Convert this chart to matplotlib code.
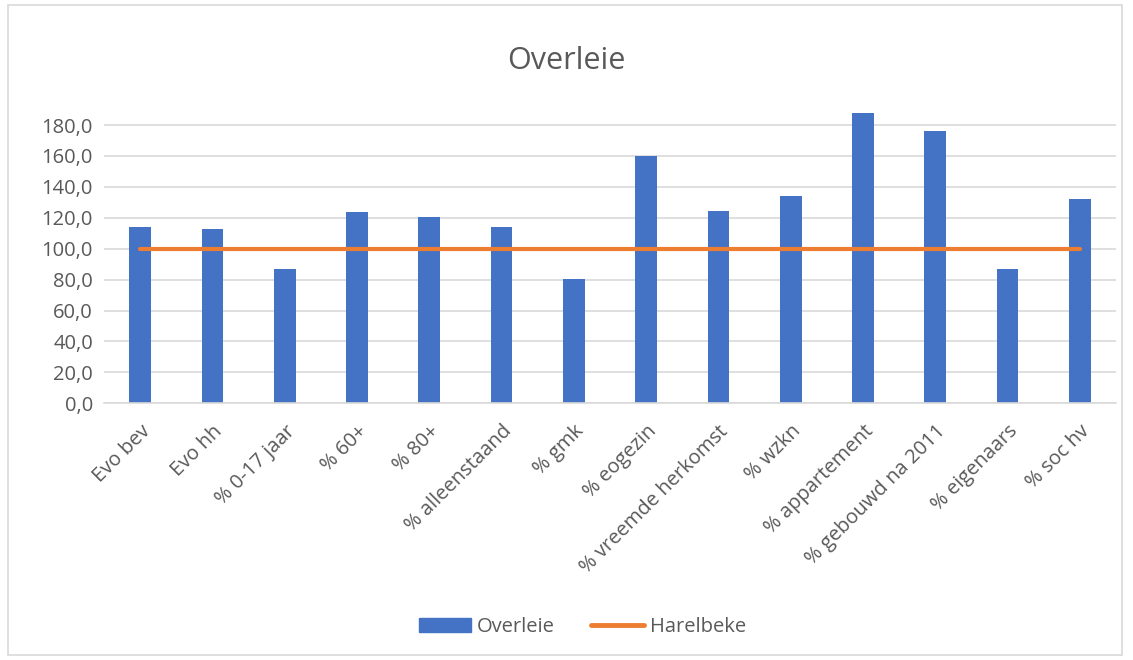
import matplotlib.pyplot as plt
import numpy as np
from matplotlib.patches import Rectangle
from matplotlib.lines import Line2D
from matplotlib.patches import Patch

# Data
categories = [
    "Evo bev", "Evo hh", "% 0-17 jaar", "% 60+", "% 80+", "% alleenstaand",
    "% gmk", "% eogezin", "% vreemde herkomst", "% wzkn", "% appartement",
    "% gebouwd na 2011", "% eigenaars", "% soc hv",
]
overleie = [114.0, 112.5, 86.7, 123.8, 120.5, 114.0, 80.4, 160.0, 124.4,
            134.1, 188.0, 176.3, 86.7, 132.3]
harelbeke = [100.0] * len(categories)
yticks = [0, 20, 40, 60, 80, 100, 120, 140, 160, 180]

plt.rcParams['font.family'] = ['Open Sans', 'DejaVu Sans']
text_col = '#595959'
grid_col = '#d9d9d9'

fig = plt.figure(figsize=(11.33, 6.6), dpi=100)
ax = fig.add_axes([0.0918, 0.389, 0.8932, 0.445])

x = np.arange(len(categories))
ax.bar(x, overleie, 0.3, color='#4472c4', zorder=2)
ax.plot(x, harelbeke, color='#ed7d31', lw=3, solid_capstyle='round', zorder=3)

ax.set_xlim(-0.5, len(categories) - 0.5)
ax.set_ylim(0, 190)
ax.set_yticks(yticks)
ax.set_yticklabels([f'{v:.1f}'.replace('.', ',') for v in yticks])
ax.yaxis.grid(True, color=grid_col, lw=1.2, zorder=0)
ax.set_xticks(x)
ax.set_xticklabels(categories, rotation=45, ha='right', rotation_mode='anchor')
ax.tick_params(axis='both', length=0, labelsize=14.5, colors=text_col, pad=8)
ax.tick_params(axis='x', pad=13)
for s in ['top', 'right', 'left']:
    ax.spines[s].set_visible(False)
ax.spines['bottom'].set_color(grid_col)
ax.spines['bottom'].set_linewidth(1.2)

fig.text(0.5, 0.908, 'Overleie', ha='center', va='center', fontsize=22, color=text_col)

handles = [Patch(color='#4472c4'), Line2D([0], [0], color='#ed7d31', lw=3.5, solid_capstyle='round')]
fig.legend(handles, ['Overleie', 'Harelbeke'], loc='center', bbox_to_anchor=(0.514, 0.05),
           ncol=2, frameon=False, fontsize=14.5, labelcolor=text_col,
           handlelength=2.6, handleheight=0.7, columnspacing=1.8, handletextpad=0.3)

# chart border
fig.patches.append(Rectangle((8 / 1133, 5 / 660), 1114 / 1133, 650 / 660, transform=fig.transFigure,
                             fill=False, edgecolor=grid_col, lw=1.2))

plt.savefig("out.png", dpi=100)
